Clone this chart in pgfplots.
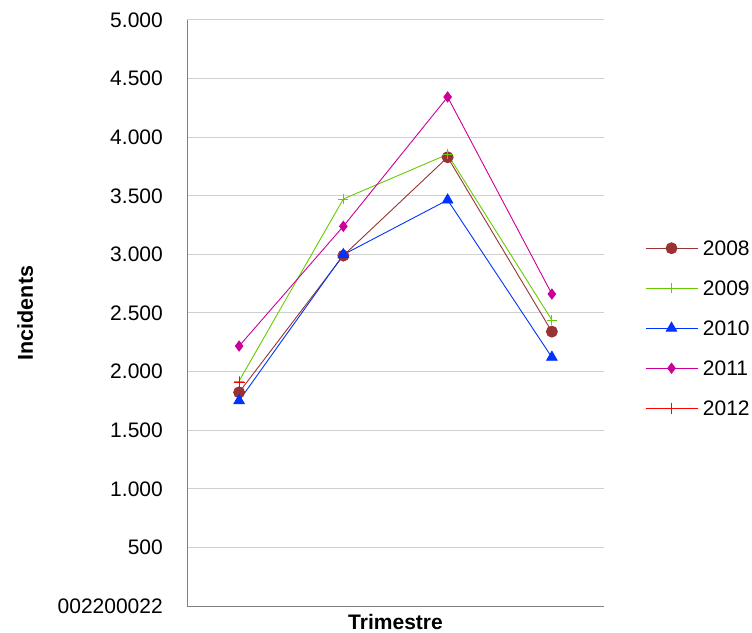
\documentclass[border=0pt]{standalone}
\usepackage{pgfplots}
\pgfplotsset{compat=1.18}
\usepackage{fontspec}
\setmainfont{Liberation Sans}

\definecolor{c2008}{HTML}{993333}
\definecolor{c2009}{HTML}{66CC00}
\definecolor{c2010}{HTML}{0033FF}
\definecolor{c2011}{HTML}{CC0099}
\definecolor{c2012}{HTML}{FF0000}
\definecolor{gridgray}{HTML}{D0D0D0}
\definecolor{axisgray}{HTML}{808080}

\begin{document}
\begin{tikzpicture}
\fontsize{21bp}{25bp}\selectfont
\begin{axis}[
  at={(187bp,27bp)}, anchor=south west,
  scale only axis,
  width=417bp, height=586bp,
  xmin=0.5, xmax=4.5,
  ymin=0, ymax=5000,
  axis x line*=bottom, axis y line*=left,
  axis line style={axisgray, line width=1bp},
  xtick=\empty,
  ytick={0,500,1000,1500,2000,2500,3000,3500,4000,4500,5000},
  yticklabels={002200022,500,1.000,1.500,2.000,2.500,3.000,3.500,4.000,4.500,5.000},
  ymajorgrids,
  major grid style={gridgray, line width=1bp},
  major tick length=0pt,
  yticklabel style={font=\fontsize{21bp}{25bp}\selectfont, inner sep=0pt, xshift=-24bp},
  every axis y label/.style={at={(axis description cs:-0.388,0.5)}, rotate=90, anchor=center,
    font=\bfseries\fontsize{21.5bp}{26bp}\selectfont},
  every axis x label/.style={at={(axis description cs:0.5,-0.028)}, anchor=center,
    font=\bfseries\fontsize{21bp}{25bp}\selectfont},
  ylabel={Incidents},
  xlabel={Trimestre},
  legend style={at={(1.098,0.474)}, anchor=west, draw=none, fill=none,
    inner sep=0pt, row sep=26bp,
    nodes={inner sep=0pt, text height=14bp, text depth=0pt, font=\fontsize{21bp}{25bp}\selectfont},
    /tikz/every odd column/.append style={column sep=5bp}},
  legend cell align=left,
  legend image code/.code={\draw[mark repeat=2,mark phase=2,#1] plot coordinates {(0bp,0bp) (26bp,0bp) (52bp,0bp)};},
  every axis plot/.append style={line width=0.9bp},
  clip=false,
]
\addplot[c2008, mark=*, mark size=5.5bp, mark options={solid, fill=c2008}]
  coordinates {(1,1823) (2,2990) (3,3829) (4,2341)};
\addplot[c2009, mark=+, mark size=5bp, mark options={solid}]
  coordinates {(1,1920) (2,3473) (3,3854) (4,2440)};
\addplot[c2010, mark=triangle*, mark size=6bp, mark options={solid, fill=c2010}]
  coordinates {(1,1752) (2,2998) (3,3464) (4,2122)};
\addplot[c2011, mark=diamond*, mark size=5bp, mark options={solid, fill=c2011}]
  coordinates {(1,2218) (2,3240) (3,4343) (4,2662)};
\addplot[c2012, mark=+, mark size=5.5bp, mark options={solid}]
  coordinates {(1,1910)};
\legend{2008,2009,2010,2011,2012}
\end{axis}
\pgfresetboundingbox
\useasboundingbox (0,0) rectangle (752bp,633bp);
\end{tikzpicture}
\end{document}
